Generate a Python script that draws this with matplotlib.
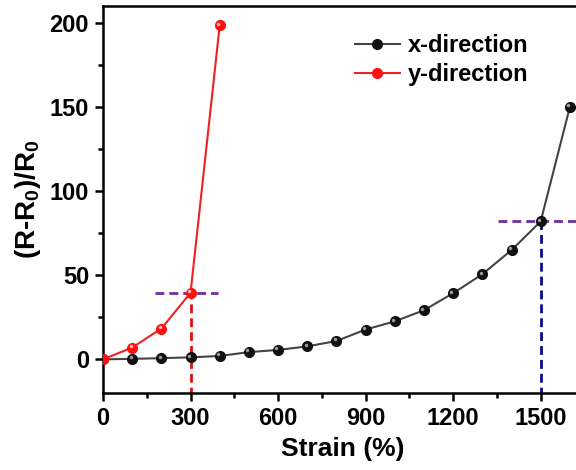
import matplotlib
matplotlib.use("Agg")
import matplotlib.pyplot as plt
from matplotlib.ticker import MultipleLocator
from matplotlib.transforms import offset_copy

plt.rcParams['font.family'] = ['Liberation Sans', 'DejaVu Sans']
plt.rcParams['font.weight'] = 'bold'
plt.rcParams['mathtext.fontset'] = 'custom'
plt.rcParams['mathtext.rm'] = 'Liberation Sans:bold'
plt.rcParams['mathtext.bf'] = 'Liberation Sans:bold'

# data
x_strain = [0, 100, 200, 300, 400, 500, 600, 700, 800, 900, 1000, 1100, 1200, 1300, 1400, 1500, 1600]
x_resp = [0, 0.3, 0.7, 1.2, 2.0, 4.3, 5.6, 7.7, 10.9, 17.7, 22.6, 29.2, 39.3, 50.6, 64.9, 82, 150]
y_strain = [0, 100, 200, 300, 400]
y_resp = [0, 7, 18.3, 39.5, 198.5]

# guide lines (limits)
y_limit_strain = 300
y_limit_resp = 39.5
y_hline_span = [178, 395]
x_limit_strain = 1500
x_limit_resp = 82
x_hline_span = [1355, 1650]

fig = plt.figure(figsize=(5.76, 4.70), dpi=100)
ax = fig.add_axes([103/576, 77/470, 480/576, 387/470])

dash = (0, (3.2, 1.8))
ax.plot([y_limit_strain, y_limit_strain], [-30, y_limit_resp], color='#e01010', lw=2.0, ls=dash, zorder=2)
ax.plot(y_hline_span, [y_limit_resp, y_limit_resp], color='#7030a0', lw=2.0, ls=dash, zorder=2)
ax.plot([x_limit_strain, x_limit_strain], [-30, x_limit_resp], color='#0a0a90', lw=2.0, ls=dash, zorder=2)
ax.plot(x_hline_span, [x_limit_resp, x_limit_resp], color='#7030a0', lw=2.0, ls=dash, zorder=2)

ax.plot(x_strain, x_resp, color='#444444', lw=1.5, marker='o', ms=7,
        mfc='#111111', mec='#111111', label='x-direction', zorder=3)
ax.plot(y_strain, y_resp, color='#ee2222', lw=1.5, marker='o', ms=7,
        mfc='#ff1010', mec='#ff1010', label='y-direction', zorder=4)

# small highlights to imitate the shaded spheres
hl = offset_copy(ax.transData, fig=fig, x=-1.2, y=1.2, units='points')
ax.plot(x_strain, x_resp, ls='none', marker='o', ms=2.5, mfc='#9a9a9a', mec='none',
        transform=hl, zorder=3.5)
ax.plot(y_strain, y_resp, ls='none', marker='o', ms=2.5, mfc='#ffb0b0', mec='none',
        transform=hl, zorder=4.5)

ax.set_xlim(0, 1645)
ax.set_ylim(-20, 210)
ax.xaxis.set_major_locator(MultipleLocator(300))
ax.xaxis.set_minor_locator(MultipleLocator(150))
ax.yaxis.set_major_locator(MultipleLocator(50))
ax.yaxis.set_minor_locator(MultipleLocator(25))
ax.tick_params(which='major', direction='out', length=6, width=1.8, labelsize=17, pad=4)
ax.tick_params(which='minor', direction='out', length=3.5, width=1.8)
for s in ax.spines.values():
    s.set_linewidth(1.8)

ax.set_xlabel('Strain (%)', fontsize=19, fontweight='bold', labelpad=5)
ax.set_ylabel(r'(R-R$_{0}$)/R$_{0}$', fontsize=20, fontweight='bold', labelpad=5)

ax.legend(loc='upper left', bbox_to_anchor=(355/576, 1 - 34/470), bbox_transform=fig.transFigure,
          frameon=False, fontsize=17, borderpad=0, handlelength=1.9, handletextpad=0.35,
          labelspacing=0.25, borderaxespad=0)

fig.savefig('out.png', dpi=100)
